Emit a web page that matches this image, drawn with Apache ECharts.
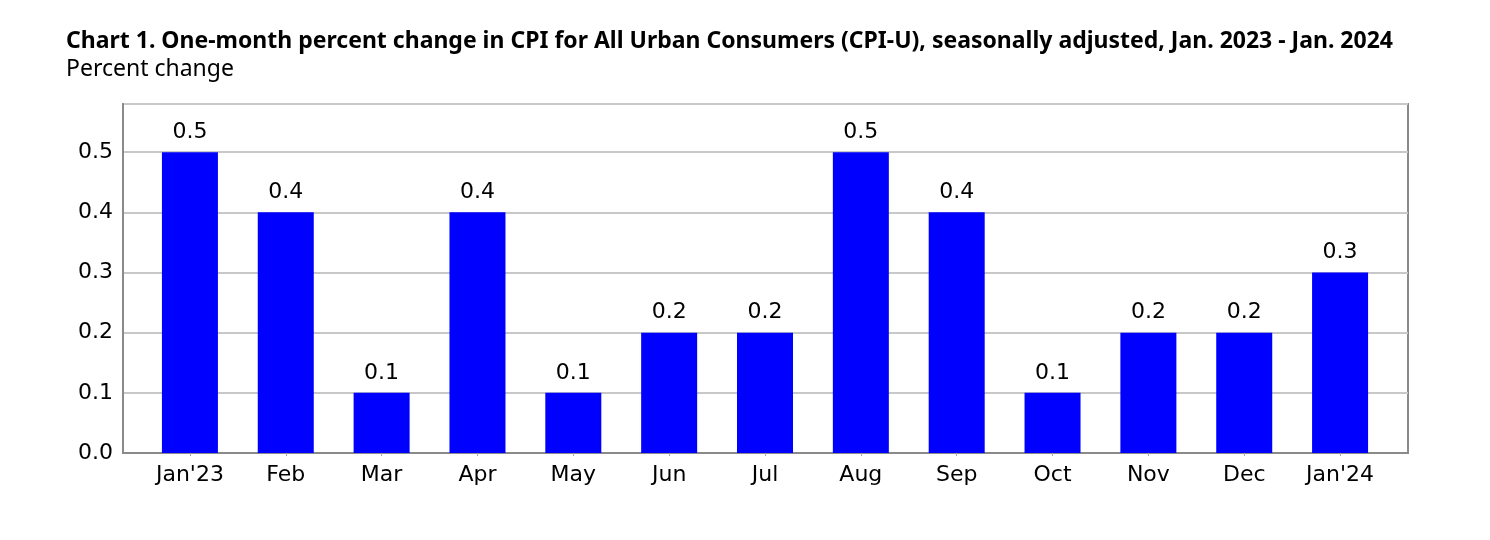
<!DOCTYPE html>
<html>
<head>
<meta charset="utf-8">
<script src="https://cdn.jsdelivr.net/npm/echarts@6/dist/echarts.min.js"></script>
<style>html,body{margin:0;padding:0;background:#fff;}#c{width:1490px;height:540px;}</style>
</head>
<body>
<div id="c"></div>
<script>
const categories = ["Jan'23","Feb","Mar","Apr","May","Jun","Jul","Aug","Sep","Oct","Nov","Dec","Jan'24"];
const values = [0.5,0.4,0.1,0.4,0.1,0.2,0.2,0.5,0.4,0.1,0.2,0.2,0.3];
const titleText = "Chart 1. One-month percent change in CPI for All Urban Consumers (CPI-U), seasonally adjusted, Jan. 2023 - Jan. 2024";
const subText = "Percent change";

const font = 'DejaVu Sans';
const chart = echarts.init(document.getElementById('c'));
chart.setOption({
  animation: false,
  backgroundColor: '#fff',
  title: {
    text: titleText,
    subtext: subText,
    left: 61,
    top: 25,
    itemGap: 5,
    textStyle: {fontFamily: 'Noto Sans', fontWeight: 'bold', fontSize: 23, color: '#000'},
    subtextStyle: {fontFamily: 'Noto Sans', fontWeight: 'normal', fontSize: 23, color: '#000'}
  },
  grid: [
    {left: 142, right: 102, top: 104, bottom: 87},
    {left: 123, right: 82, top: 104, bottom: 87, show: true, borderColor: '#8a8a8a', borderWidth: 2, backgroundColor: '#fff', z: 0}
  ],
  xAxis: [
    {
      type: 'category', gridIndex: 0,
      data: categories,
      axisLine: {show: false},
      axisTick: {show: true, alignWithLabel: true, length: 3, lineStyle: {color: '#aaa'}},
      axisLabel: {fontFamily: font, fontSize: 22, color: '#000', margin: 11}
    },
    {
      type: 'category', gridIndex: 1, data: categories,
      axisLine: {show: true, lineStyle: {color: '#8a8a8a', width: 2}},
      axisTick: {show: false}, axisLabel: {show: false}, splitLine: {show: false}
    }
  ],
  yAxis: [
    {
      type: 'value', gridIndex: 0, min: 0, max: 0.58, interval: 0.1,
      axisLine: {show: false}, axisTick: {show: false}, axisLabel: {show: false}, splitLine: {show: false}
    },
    {
      type: 'value', gridIndex: 1, min: 0, max: 0.58, interval: 0.1,
      axisLine: {show: true, lineStyle: {color: '#8a8a8a', width: 2}},
      axisTick: {show: false},
      axisLabel: {fontFamily: font, fontSize: 22, color: '#000', margin: 10, showMaxLabel: false,
        formatter: v => v > 0.51 ? '' : v.toFixed(1)},
      splitLine: {lineStyle: {color: '#c8c8c8', width: 2}}
    }
  ],
  series: [{
    type: 'bar',
    xAxisIndex: 0, yAxisIndex: 0,
    data: values,
    barWidth: 56,
    z: 5,
    itemStyle: {color: '#0000ff'},
    label: {show: true, position: 'top', distance: 9, fontFamily: font, fontSize: 22, color: '#000',
      formatter: p => p.value.toFixed(1)}
  }]
});
</script>
</body>
</html>
